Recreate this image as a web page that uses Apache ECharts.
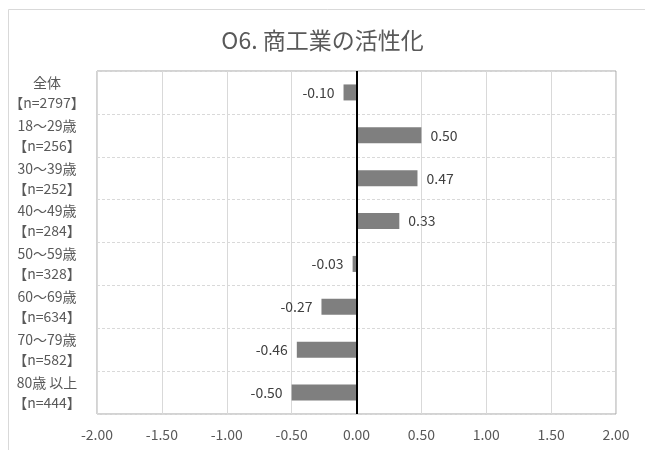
<!DOCTYPE html>
<html>
<head>
<meta charset="utf-8">
<script src="https://cdn.jsdelivr.net/npm/echarts@6/dist/echarts.min.js"></script>
<style>
  html, body { margin: 0; padding: 0; background: #fff; }
  #chart { width: 645px; height: 450px; }
</style>
</head>
<body>
<div id="chart"></div>
<script>
var titleText = 'O6. 商工業の活性化';
var categories = ['全体\n【n=2797】', '18～29歳\n【n=256】', '30～39歳\n【n=252】', '40～49歳\n【n=284】',
    '50～59歳\n【n=328】', '60～69歳\n【n=634】', '70～79歳\n【n=582】', '80歳 以上\n【n=444】'];
var scores = [-0.10, 0.50, 0.47, 0.33, -0.03, -0.27, -0.46, -0.50];

var font = '"Noto Sans CJK JP", "Noto Sans", sans-serif';

var chart = echarts.init(document.getElementById('chart'));

var barData = scores.map(function (v) {
    return {
        value: v,
        label: { position: v < 0 ? 'left' : 'right' }
    };
});

var option = {
    backgroundColor: '#fff',
    animation: false,
    title: {
        text: titleText,
        left: 'center',
        top: 24,
        textStyle: { fontFamily: font, fontSize: 23, fontWeight: 'normal', color: '#595959' }
    },
    graphic: [{
        type: 'rect',
        shape: { x: 8.5, y: 9.5, width: 640, height: 450 },
        style: { fill: 'none', stroke: '#d9d9d9', lineWidth: 1 },
        silent: true
    }],
    grid: {
        left: 97, right: 29, top: 71, bottom: 36,
        show: true,
        borderColor: '#a6a6a6',
        borderWidth: 1
    },
    xAxis: {
        type: 'value',
        min: -2, max: 2, interval: 0.5,
        axisLine: { show: false },
        axisTick: { show: false },
        splitLine: { lineStyle: { color: '#d9d9d9', width: 1 } },
        axisLabel: {
            margin: 14,
            fontFamily: font, fontSize: 14, color: '#595959',
            formatter: function (v) { return v.toFixed(2); }
        }
    },
    yAxis: {
        type: 'category',
        inverse: true,
        data: categories,
        axisLine: { show: false },
        axisTick: { show: false },
        splitLine: { show: true, lineStyle: { color: '#d9d9d9', type: [3, 2] } },
        axisLabel: {
            margin: 50,
            align: 'center',
            lineHeight: 20,
            fontFamily: font, fontSize: 14, color: '#595959'
        }
    },
    series: [{
        type: 'bar',
        data: barData,
        barWidth: 16,
        itemStyle: { color: '#7f7f7f' },
        label: {
            show: true,
            distance: 9,
            fontFamily: font, fontSize: 14, color: '#404040',
            formatter: function (p) { return p.value.toFixed(2); }
        },
        markLine: {
            silent: true,
            symbol: 'none',
            label: { show: false },
            lineStyle: { color: '#000', width: 2, type: 'solid' },
            data: [{ xAxis: 0 }]
        }
    }]
};

chart.setOption(option);
</script>
</body>
</html>
